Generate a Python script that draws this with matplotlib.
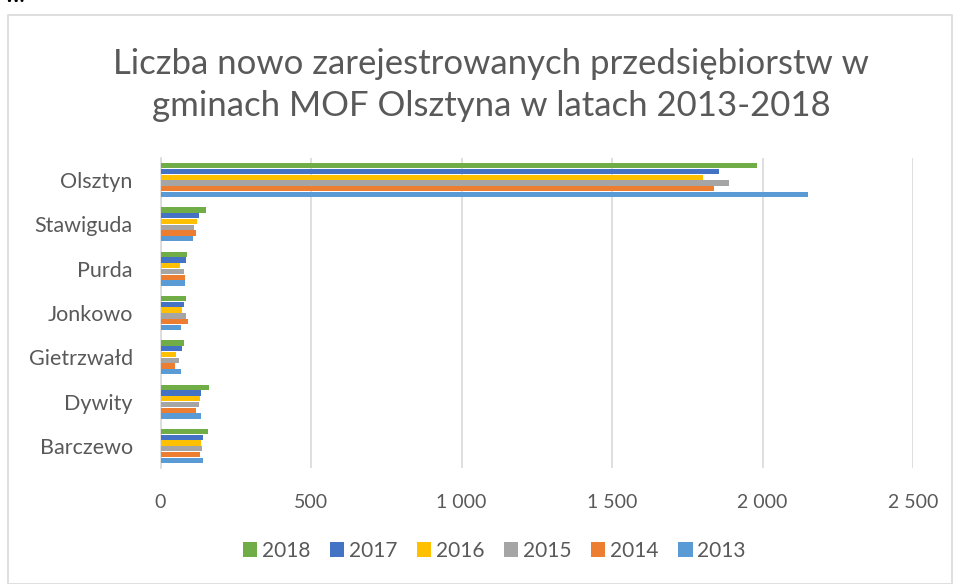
import matplotlib.pyplot as plt
from matplotlib.patches import Rectangle
from matplotlib.ticker import FuncFormatter
import numpy as np

plt.rcParams['font.family'] = ['Lato', 'DejaVu Sans']

gminy = ["Barczewo", "Dywity", "Gietrzwałd", "Jonkowo", "Purda", "Stawiguda", "Olsztyn"]
years = ["2013", "2014", "2015", "2016", "2017", "2018"]

# new firms per year, ordered like gminy
v2013 = [140, 135, 67, 68, 82, 108, 2151]
v2014 = [132, 118, 48, 92, 82, 118, 1839]
v2015 = [138, 128, 61, 84, 78, 110, 1889]
v2016 = [135, 130, 52, 72, 65, 122, 1801]
v2017 = [142, 135, 72, 77, 85, 128, 1856]
v2018 = [158, 160, 77, 84, 88, 152, 1981]
values = [v2013, v2014, v2015, v2016, v2017, v2018]
colors = ["#5B9BD5", "#ED7D31", "#A5A5A5", "#FFC000", "#4472C4", "#70AD47"]

W, H = 955, 584
fig = plt.figure(figsize=(W / 100, H / 100), dpi=100)

# outer chart border
fig.patches.append(Rectangle((8 / W, 0), 944 / W, 1 - 15 / H, transform=fig.transFigure,
                             fill=False, edgecolor="#D9D9D9", linewidth=1.2))
fig.text(5 / W, 1 + 3 / H, "w.", fontsize=14, color="black", va="center", ha="left", weight="bold")

ax = fig.add_axes([160.5 / W, 1 - 468 / H, (913 - 160.5) / W, (468 - 158) / H])

y = np.arange(len(gminy))
h = 0.13
for i, (yr, vals, c) in enumerate(zip(years, values, colors)):
    ax.barh(y + (i - 2.5) * h, vals, height=h * 0.92, color=c, label=yr, zorder=3)

ax.set_xlim(0, 2500)
ax.set_ylim(-0.5, len(gminy) - 0.5)
ax.set_xticks(np.arange(0, 2501, 500))
ax.xaxis.set_major_formatter(FuncFormatter(lambda v, p: f"{int(v):,}".replace(",", " ")))
ax.set_yticks(y)
ax.set_yticklabels(gminy)
ax.grid(axis="x", color="#D9D9D9", linewidth=1.2, zorder=0)
for s in ["top", "right", "bottom"]:
    ax.spines[s].set_visible(False)
ax.spines["left"].set_color("#D9D9D9")
ax.spines["left"].set_linewidth(1.2)
ax.tick_params(length=0, colors="#595959")
ax.tick_params(axis="x", pad=19, labelsize=14)
ax.tick_params(axis="y", pad=20, labelsize=15.5)

fig.text(491 / W, 1 - 85 / H,
         "Liczba nowo zarejestrowanych przedsiębiorstw w\ngminach MOF Olsztyna w latach 2013-2018",
         ha="center", va="center", fontsize=25, color="#595959", linespacing=1.4)

handles, labels = ax.get_legend_handles_labels()
fig.legend(handles[::-1], labels[::-1], loc="center", bbox_to_anchor=(494 / W, 1 - 551 / H),
           ncol=6, frameon=False, fontsize=15, handlelength=0.7, handleheight=0.7,
           handletextpad=0.2, columnspacing=0.95, labelcolor="#595959")

fig.savefig("out.png", dpi=100)
